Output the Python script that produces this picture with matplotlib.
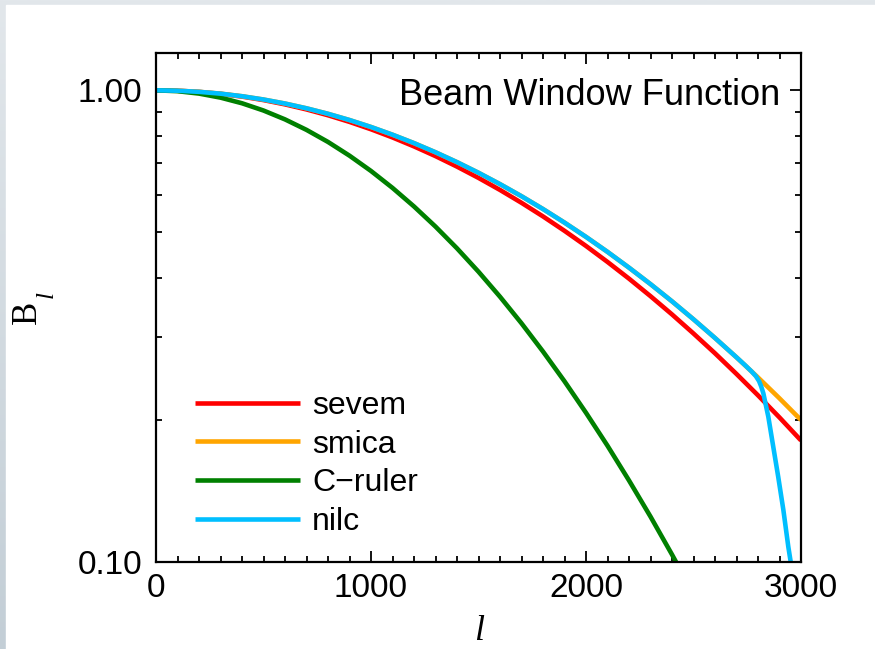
import matplotlib
matplotlib.use("Agg")
import matplotlib.pyplot as plt
import numpy as np
from matplotlib.patches import Rectangle
from matplotlib.colors import LinearSegmentedColormap
from matplotlib.ticker import FixedLocator, MultipleLocator, FixedFormatter, NullFormatter

plt.rcParams['font.family'] = ['Liberation Sans', 'DejaVu Sans']

# -----------------------------
# BEAM WINDOW FUNCTIONS B_l
# -----------------------------
ell = [0, 100, 200, 300, 400, 500, 600, 700, 800, 900,
       1000, 1100, 1200, 1300, 1400, 1500, 1600, 1700, 1800, 1900,
       2000, 2100, 2200, 2300, 2400, 2500, 2600, 2700, 2800, 2900, 3000]

sevem = [1.0, 0.9981, 0.9924, 0.9830, 0.9700, 0.9536, 0.9338, 0.9110, 0.8855, 0.8573,
         0.8269, 0.7946, 0.7606, 0.7254, 0.6891, 0.6522, 0.6149, 0.5775, 0.5404, 0.5037,
         0.4678, 0.4327, 0.3988, 0.3661, 0.3349, 0.3051, 0.2770, 0.2504, 0.2256, 0.2025, 0.1810]

smica = [1.0, 0.9982, 0.9928, 0.9840, 0.9717, 0.9562, 0.9376, 0.9160, 0.8918, 0.8651,
         0.8362, 0.8053, 0.7729, 0.7391, 0.7043, 0.6687, 0.6326, 0.5964, 0.5602, 0.5243,
         0.4890, 0.4545, 0.4208, 0.3883, 0.3570, 0.3270, 0.2985, 0.2716, 0.2462, 0.2223, 0.2000]

cruler_ell = ell[:26]
cruler = [1.0, 0.9960, 0.9843, 0.9651, 0.9389, 0.9062, 0.8678, 0.8245, 0.7773, 0.7269,
          0.6746, 0.6211, 0.5673, 0.5142, 0.4624, 0.4125, 0.3651, 0.3207, 0.2794, 0.2416,
          0.2072, 0.1764, 0.1489, 0.1248, 0.1037, 0.0855]

# nilc follows smica, then rolls off sharply near l~2800
nilc_ell = ell[:28] + [2740, 2770, 2790, 2805, 2815, 2825, 2848, 2871, 2894, 2918, 2941, 2952, 2965]
nilc = smica[:28] + [0.2613, 0.2535, 0.2478, 0.2418, 0.2355, 0.2277, 0.2032, 0.1755, 0.1516,
                     0.1289, 0.1077, 0.1001, 0.0910]

series = [
    ("sevem", ell, sevem, "#ff0000"),
    ("smica", ell, smica, "#ffa500"),
    ("C\u2212ruler", cruler_ell, cruler, "#008000"),
    ("nilc", nilc_ell, nilc, "#00bfff"),
]

W, H = 875, 649
fig = plt.figure(figsize=(W / 100, H / 100), dpi=100)

# slide-style frame behind the plot
bg = fig.add_axes([0, 0, 1, 1], zorder=-10)
frame_cmap = LinearSegmentedColormap.from_list("frame", ["#e2e7eb", "#c3ced6"])
bg.imshow(np.linspace(0, 1, 256).reshape(-1, 1), extent=[0, 1, 0, 1],
          aspect="auto", cmap=frame_cmap)
bg.add_patch(Rectangle((6 / W, 0), 1, 1 - 5 / H, color="white"))
bg.set_xlim(0, 1)
bg.set_ylim(0, 1)
bg.axis("off")

ax = fig.add_axes([156 / W, 1 - 562 / H, 645 / W, 509 / H])
ax.patch.set_alpha(0)

for name, x, y, c in series:
    ax.plot(x, y, color=c, lw=3.3, label=name, solid_capstyle="butt")

ax.set_yscale("log")
ax.set_xlim(0, 3000)
ax.set_ylim(0.1, 1.2)

ax.xaxis.set_major_locator(FixedLocator([0, 1000, 2000, 3000]))
ax.xaxis.set_minor_locator(MultipleLocator(100))
ax.yaxis.set_major_locator(FixedLocator([0.1, 1.0]))
ax.yaxis.set_major_formatter(FixedFormatter(["0.10", "1.00"]))
ax.yaxis.set_minor_locator(FixedLocator([0.2, 0.3, 0.4, 0.5, 0.6, 0.7, 0.8, 0.9]))
ax.yaxis.set_minor_formatter(NullFormatter())

ax.tick_params(which="both", direction="in", top=True, right=True, width=1.3,
               labelsize=24, color="black")
ax.tick_params(which="major", length=8)
ax.tick_params(which="minor", length=4)
ax.tick_params(axis="x", which="major", pad=8)
ax.tick_params(axis="y", which="major", pad=10)
for s in ax.spines.values():
    s.set_linewidth(1.6)

ax.text((780 - 156) / 645, (562 - 105) / 509, "Beam Window Function",
        transform=ax.transAxes, ha="right", va="baseline", fontsize=26)

ax.legend(loc="upper left", bbox_to_anchor=((195 - 156) / 645, (562 - 391) / 509),
          frameon=False, fontsize=23, handlelength=3.3, handletextpad=0.37,
          labelspacing=0.27, borderpad=0, borderaxespad=0)

# axis labels in serif, B with a dropped italic l subscript
fig.text(27 / W, 1 - 312 / H, "B", rotation=90, ha="center", va="center",
         fontsize=25, family="Liberation Serif")
fig.text(47 / W, 1 - 294 / H, "l", rotation=90, ha="center", va="center",
         fontsize=18, family="Liberation Serif", style="italic")
fig.text(479 / W, 1 - 632 / H, "l", ha="center", va="center",
         fontsize=26, family="Liberation Serif", style="italic")

fig.savefig("out.png", dpi=100)
